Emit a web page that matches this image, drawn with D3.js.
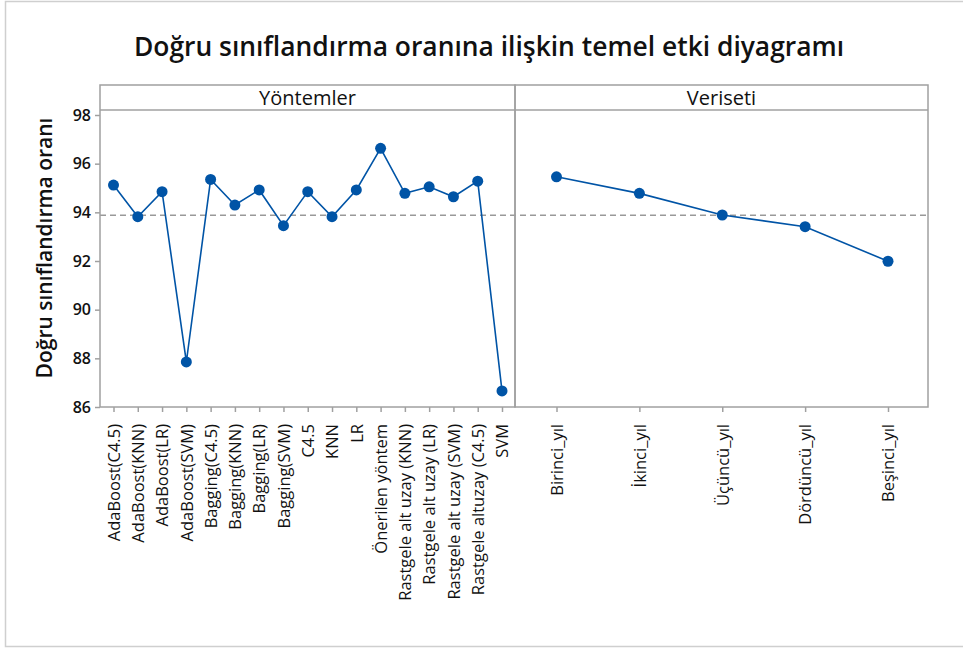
<!DOCTYPE html>
<html>
<head>
<meta charset="utf-8">
<script src="https://cdn.jsdelivr.net/npm/d3@7"></script>
<style>
  body { margin: 0; background: #fff; }
  text { font-family: "Open Sans", "Noto Sans", sans-serif; fill: #111; }
</style>
</head>
<body>
<div id="canvas"></div>
<script>
const yontemler = ["AdaBoost(C4.5)", "AdaBoost(KNN)", "AdaBoost(LR)", "AdaBoost(SVM)", "Bagging(C4.5)",
    "Bagging(KNN)", "Bagging(LR)", "Bagging(SVM)", "C4.5", "KNN", "LR", "Önerilen yöntem",
    "Rastgele alt uzay (KNN)", "Rastgele alt uzay (LR)", "Rastgele alt uzay (SVM)", "Rastgele altuzay (C4.5)", "SVM"];
const yontemDeger = [95.12, 93.82, 94.85, 87.85, 95.35, 94.30, 94.92, 93.45, 94.85, 93.82, 94.92, 96.63,
    94.78, 95.05, 94.64, 95.28, 86.66];
const veriseti = ["Birinci_yıl", "İkinci_yıl", "Üçüncü_yıl", "Dördüncü_yıl", "Beşinci_yıl"];
const verisetiDeger = [95.46, 94.78, 93.89, 93.41, 91.99];
const genelOrt = [93.88];
const yTicks = [86, 88, 90, 92, 94, 96, 98];

const width = 963, height = 648;
const plotTop = 110, plotBottom = 407, stripTop = 85;
const left = 100, mid = 515, right = 928;
const blue = "#0054a6", gray = "#a0a0a0";

const svg = d3.select("#canvas").append("svg")
    .attr("width", width)
    .attr("height", height);

// dis cerceve
svg.append("rect")
    .attr("x", 5.5).attr("y", 1.5)
    .attr("width", 960).attr("height", 645)
    .attr("fill", "none").attr("stroke", "#cfcfcf").attr("stroke-width", 1.5);

svg.append("text")
    .attr("x", 489).attr("y", 56)
    .attr("text-anchor", "middle")
    .style("font-size", "26.4px").style("font-weight", 600)
    .text("Doğru sınıflandırma oranına ilişkin temel etki diyagramı");

const y = d3.scaleLinear().domain([86, 98]).range([plotBottom, 115]);

const x1 = d3.scalePoint().domain(yontemler).range([113.5, 502]);
const x2 = d3.scalePoint().domain(veriseti).range([556.5, 888]);

// y ekseni
svg.append("g")
    .attr("transform", `translate(${left},0)`)
    .call(d3.axisLeft(y).tickValues(yTicks).tickSize(5).tickPadding(4))
    .call(g => g.select(".domain").remove())
    .call(g => g.selectAll("line").attr("stroke", gray).attr("stroke-width", 1.5))
    .call(g => g.selectAll("text").style("font-size", "16px").style("font-weight", 600)
        .attr("fill", "#111").style("font-family", "'Open Sans', sans-serif"));

svg.append("text")
    .attr("transform", "translate(52,248) rotate(-90)")
    .attr("text-anchor", "middle")
    .style("font-size", "21px").style("font-weight", 600)
    .text("Doğru sınıflandırma oranı");

// x eksenleri
function xAxis(scale) {
    return g => g.attr("transform", `translate(0,${plotBottom})`)
        .call(d3.axisBottom(scale).tickSize(5).tickPadding(3))
        .call(g => g.select(".domain").remove())
        .call(g => g.selectAll("line").attr("stroke", gray).attr("stroke-width", 1.5))
        .call(g => g.selectAll("text")
            .attr("transform", "rotate(-90)")
            .attr("text-anchor", "end")
            .attr("x", -17).attr("y", 0).attr("dy", "0.35em")
            .attr("fill", "#000")
            .style("font-size", "16.5px")
            .style("font-family", "'Open Sans', sans-serif"));
}
svg.append("g").call(xAxis(x1));
svg.append("g").call(xAxis(x2));

// ortalama cizgisi
svg.selectAll("line.mean").data(genelOrt).enter().append("line")
    .attr("class", "mean")
    .attr("x1", left).attr("x2", right)
    .attr("y1", d => y(d)).attr("y2", d => y(d))
    .attr("stroke", "#999").attr("stroke-width", 1.5)
    .attr("stroke-dasharray", "6,4");

// seriler
const line = d3.line();
function seri(scale, cats, vals) {
    const pts = cats.map((c, i) => [scale(c), y(vals[i])]);
    svg.append("path")
        .attr("d", line(pts))
        .attr("fill", "none")
        .attr("stroke", blue)
        .attr("stroke-width", 1.6);
    svg.append("g").selectAll("circle").data(pts).enter().append("circle")
        .attr("cx", d => d[0]).attr("cy", d => d[1])
        .attr("r", 5.5)
        .attr("fill", blue);
}
seri(x1, yontemler, yontemDeger);
seri(x2, veriseti, verisetiDeger);

// panel cerceveleri ve basliklar
const panels = [{ ad: "Yöntemler", x0: left, x1: mid }, { ad: "Veriseti", x0: mid, x1: right }];
panels.forEach(p => {
    svg.append("rect")
        .attr("x", p.x0).attr("y", stripTop)
        .attr("width", p.x1 - p.x0).attr("height", plotBottom - stripTop)
        .attr("fill", "none").attr("stroke", gray).attr("stroke-width", 1.5);
    svg.append("line")
        .attr("x1", p.x0).attr("x2", p.x1)
        .attr("y1", plotTop).attr("y2", plotTop)
        .attr("stroke", gray).attr("stroke-width", 1.5);
    svg.append("text")
        .attr("x", (p.x0 + p.x1) / 2).attr("y", 105)
        .attr("text-anchor", "middle")
        .style("font-size", "20px")
        .text(p.ad);
});
</script>
</body>
</html>
